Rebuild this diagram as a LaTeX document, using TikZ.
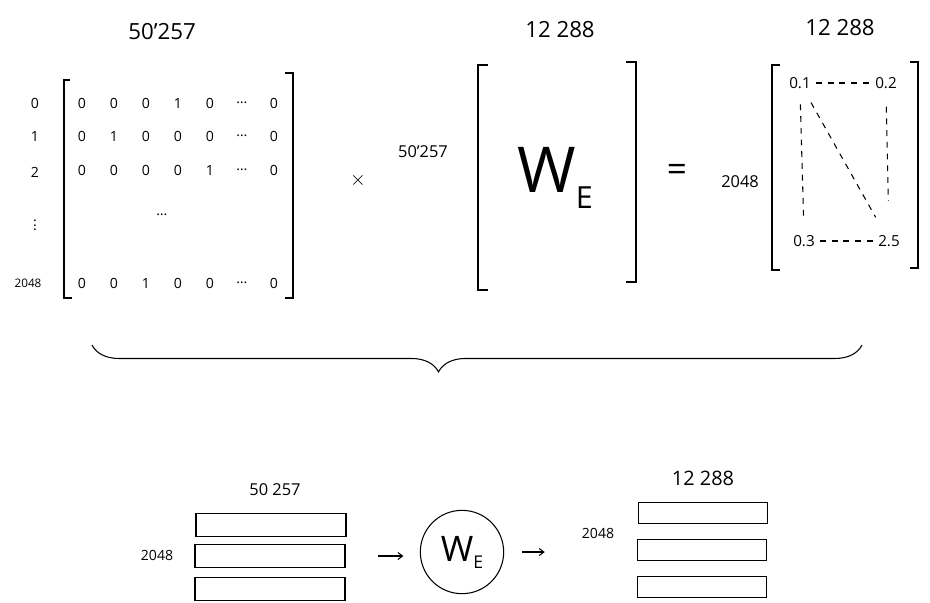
\documentclass[tikz,border=0pt]{standalone}
\usepackage{fontspec}
\setmainfont{Open Sans}
\usetikzlibrary{arrows.meta, decorations.pathreplacing, positioning, calc}

\begin{document}
\begin{tikzpicture}[x=0.03cm, y=-0.03cm, line width=0.9pt,
  dimlbl/.style={font=\fontsize{19}{19}\selectfont},
  sidelbl/.style={font=\fontsize{14}{14}\selectfont},
  entry/.style={font=\fontsize{12}{12}\selectfont, inner sep=1pt},
  val/.style={font=\fontsize{13}{13}\selectfont, inner sep=1pt},
  dashln/.style={dash pattern=on 5pt off 5pt},
  arr/.style={-{Straight Barb[length=4pt, width=6pt]}},
  lbar/.style={draw, minimum width=4.5cm, minimum height=0.7cm, inner sep=0pt},
  rbar/.style={draw, minimum width=3.85cm, minimum height=0.63cm, inner sep=0pt}]
  \useasboundingbox (0,0) rectangle (930,602);

  % One-hot input matrix
  \node[dimlbl] (vocab) at (162,32) {50'257};
  \draw (70,80) -- (64,80) -- (64,298) -- (72,298);
  \draw (285,73) -- (293,73) -- (293,298) -- (285,298);
  \foreach \r/\ry/\vals in {
    0/103/{0,0,0,1,0,\dots,0},
    1/136/{0,1,0,0,0,\dots,0},
    2/170/{0,0,0,0,1,\dots,0},
    3/283/{0,0,1,0,0,\dots,0}%
  }{
    \foreach \v [count=\c] in \vals {
      \node[entry] (m\r-\c) at ({82+(\c-1)*32},\ry) {\v};
    }
  }
  \node[entry] (mdots) at (162,215) {\dots};
  \foreach \r/\ry/\lbl in {0/103/0, 1/136/1, 2/172/2}{
    \node[entry] (row\r) at (35,\ry) {\lbl};
  }
  \node[entry] (rowdots) at (35,222) {$\vdots$};
  \node[entry, font=\fontsize{10}{10}\selectfont] (rowlast) at (28,283) {2048};

  \node[font=\fontsize{16}{16}\selectfont] (times) at (358,180) {$\times$};

  % Embedding matrix
  \node[dimlbl] (embdim) at (560,30) {12 288};
  \node[sidelbl] (vocab2) at (423,152) {50'257};
  \draw (488,65) -- (478,65) -- (478,290) -- (488,290);
  \draw (626,62) -- (636,62) -- (636,282) -- (626,282);
  \node (we) at (555,178)
    {\fontsize{54}{54}\selectfont W\fontsize{26}{26}\selectfont\raisebox{-0.5em}{E}};

  \node[font=\fontsize{30}{30}\selectfont] (eq) at (677,173) {=};

  % Result matrix
  \node[dimlbl] (embdim2) at (840,28) {12 288};
  \node[sidelbl] (ctx) at (740,182) {2048};
  \draw (780,65) -- (772,65) -- (772,270) -- (780,270);
  \draw (910,62) -- (918,62) -- (918,268) -- (910,268);
  \node[val] (r11) at (800,83) {0.1};
  \node[val] (r12) at (886,83) {0.2};
  \node[val] (r21) at (804,241) {0.3};
  \node[val] (r22) at (889,241) {2.5};
  \draw[dashln, shorten <=3pt, shorten >=3pt] (r11) -- (r12);
  \draw[dashln, shorten <=3pt, shorten >=3pt] (r21) -- (r22);
  \draw[dashln, shorten <=12pt, shorten >=12pt] (r11.south) -- (r21.north);
  \draw[dashln, shorten <=12pt, shorten >=16pt] (r11) -- (r22);
  \draw[dashln, shorten <=14pt, shorten >=28pt] (r12.south) -- (r22.north);

  % Brace
  \draw[decorate, decoration={brace, amplitude=23pt, aspect=0.55}]
    (862,345) -- (92,345);

  % Lookup view
  \node[sidelbl] (vocab3) at (275,490) {50 257};
  \node[lbar] (lb1) at (271,525) {};
  \node[lbar] (lb2) at (270,556) {};
  \node[lbar] (lb3) at (270,589) {};
  \node[sidelbl, font=\fontsize{12}{12}\selectfont] (ctx2) at (157,555) {2048};

  \node[draw, circle, minimum size=2.5cm, inner sep=0pt] (cwe) at (462,552)
    {\fontsize{30}{30}\selectfont W\fontsize{15}{15}\selectfont\raisebox{-0.4em}{E}};

  \node[dimlbl, font=\fontsize{17}{17}\selectfont] (embdim3) at (703,478) {12 288};
  \node[sidelbl, font=\fontsize{12}{12}\selectfont] (ctx3) at (598,533) {2048};
  \node[rbar] (rb1) at (703,513) {};
  \node[rbar] (rb2) at (702,550) {};
  \node[rbar] (rb3) at (702,587) {};

  \draw[arr, shorten <=28pt, shorten >=14pt] (lb2.east) -- (lb2.east -| cwe.west);
  \draw[arr, shorten <=15pt, shorten >=79pt] (cwe.east) -- (cwe.east -| rb2.west);
\end{tikzpicture}
\end{document}
